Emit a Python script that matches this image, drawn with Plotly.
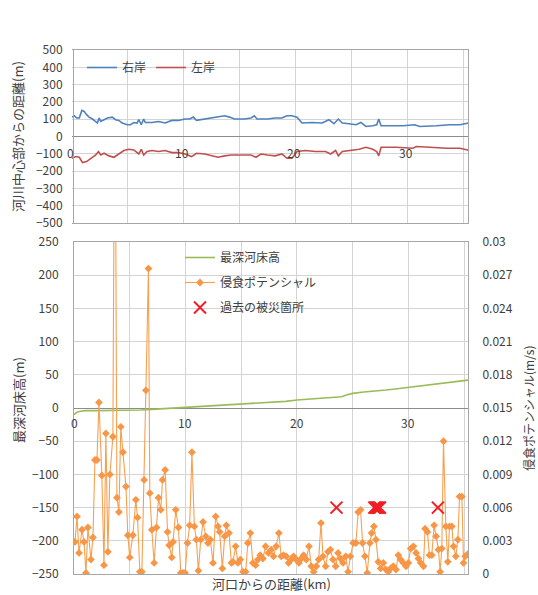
import plotly.graph_objects as go

W, H = 538, 595

# ---------------- top chart: distance from river centre ----------------
right_x = [0, 0.21, 0.41, 0.65, 0.88, 1.09, 1.3, 1.53, 1.83, 2.12, 2.27, 2.42, 2.57, 2.86, 3.16, 3.6, 3.89,
           4.19, 4.48, 4.93, 5.22, 5.52, 5.81, 5.96, 6.19, 6.4, 6.55, 7.14, 7.73, 8.32, 8.91, 9.5, 10.09,
           10.53, 10.83, 11.12, 11.56, 12.01, 12.45, 13.04, 13.63, 14.07, 14.51, 15.4, 15.99, 16.28, 16.52,
           16.87, 17.46,
           18.14, 18.74, 19.19, 19.64, 20.09, 20.54, 21.44, 22.34, 22.94, 23.39, 23.78, 24.14, 24.74, 25.35,
           25.8, 26.25, 26.85, 27.21, 27.39, 27.6, 28.35, 29.55, 30.6, 31.05, 32.55, 33.75, 34.65, 35.41]
right_y = [112, 120, 107, 107, 151, 145, 126, 112, 101, 87, 78, 107, 87, 97, 107, 112, 97,
           93, 78, 68, 68, 81, 78, 97, 68, 101, 81, 81, 87, 78, 93, 93, 101,
           101, 112, 93, 97, 101, 107, 112, 120, 112, 101, 101, 107, 120, 101,
           101, 101,
           107, 107, 120, 120, 112, 78, 81, 78, 97, 74, 101, 78, 74, 68,
           81, 58, 62, 68, 101, 62, 62, 62, 68, 58, 62, 68, 68, 78]

left_x = [0, 0.35, 0.65, 0.94, 1.3, 1.68, 2.12, 2.36, 2.57, 2.86, 3.3, 3.75, 4.19, 4.63, 5.07, 5.52, 5.96,
          6.19, 6.4, 6.7, 7.14, 7.73, 8.32, 8.91, 9.5, 10.09, 10.68, 11.12, 11.86, 12.45, 13.04, 13.63,
          14.22, 15.1, 15.99, 16.43, 16.87, 17.46,
          18.14, 18.74, 19.19, 19.64, 20.09, 20.84, 21.74, 22.64, 23.09, 23.54, 23.78, 24.14, 24.89, 25.65,
          26.25, 26.85, 27.21, 27.39, 27.6, 28.95, 30.45, 30.75, 31.95, 33.45, 34.65, 35.41]
left_y = [-126, -116, -120, -151, -145, -126, -107, -87, -107, -97, -112, -120, -101, -81, -74, -78, -101,
          -74, -107, -87, -81, -87, -81, -93, -93, -101, -116, -97, -101, -112, -120, -112,
          -107, -107, -107, -120, -101, -107,
          -112, -101, -126, -126, -87, -81, -87, -87, -101, -81, -112, -87, -81, -74,
          -62, -74, -87, -112, -62, -62, -68, -58, -62, -68, -68, -80]

# ---------------- bottom chart ----------------
bed_x = [0, 0.3, 0.6, 1, 2, 3, 4, 5, 6, 7, 8, 9, 10, 11, 12, 13, 14, 15, 16, 17, 17.5, 18, 19, 20, 21,
         22, 23, 24, 24.5, 25, 26, 27, 28, 29, 30, 31, 32, 33, 34, 35, 35.35]
bed_y = [-10, -6, -5, -4, -4, -4, -3, -3, -3, -2, -1, 0, 1, 2, 3, 4, 5, 6, 6, 7, 7.5, 9, 10, 12, 13,
         15, 16, 17, 20, 22, 24, 25, 27, 29, 31, 33, 35, 37, 39, 41, 42]

erosion_x = [0.09, 0.27, 0.45, 0.72, 0.9, 1.07, 1.25, 1.52, 1.7, 1.88,
             2.06, 2.24, 2.5, 2.69, 2.86, 3.04, 3.22, 3.49, 3.67, 3.85,
             4.03, 4.2, 4.39, 4.66, 4.83, 5.0, 5.28,
             5.55, 5.70, 5.91, 6.09, 6.29, 6.45, 6.68, 6.80, 6.98, 7.19,
             7.40, 7.58, 7.79, 7.94, 8.18, 8.39, 8.54, 8.77, 8.89, 9.13,
             9.37, 9.58, 9.79, 9.97, 10.18, 10.38, 10.58, 10.80, 10.98, 11.16,
             11.37, 11.58,
             11.82, 12.02, 12.23, 12.47, 12.71, 12.92, 13.07, 13.31, 13.52, 13.67,
             13.91, 14.12, 14.26, 14.5, 14.71, 14.92, 15.16, 15.4, 15.6, 15.82,
             16.05, 16.29, 16.5, 16.71, 16.95, 17.19, 17.45,
             17.69, 17.9, 18.14, 18.38, 18.59, 18.8, 19.04, 19.25, 19.49, 19.7,
             19.94, 20.18, 20.39, 20.6, 20.84, 21.08, 21.29, 21.5, 21.74, 21.95,
             22.16, 22.34, 22.58, 22.79, 23.0, 23.24, 23.48, 23.69, 23.9, 24.14,
             24.38, 24.59, 24.8, 25.05, 25.29, 25.5, 25.71, 25.89, 26.1, 26.31,
             26.55, 26.7, 26.91, 27.09, 27.3, 27.51, 27.75, 27.99, 28.2, 28.41,
             28.65, 28.89, 29.1, 29.31, 29.55, 29.79, 30.0, 30.21, 30.45, 30.69,
             30.9, 31.11, 31.35, 31.5, 31.71, 31.89, 32.1, 32.31, 32.49, 32.7,
             32.85, 33.0, 33.15, 33.36, 33.54, 33.69, 33.9, 34.05, 34.26, 34.44,
             34.59, 34.8, 34.95, 35.1, 35.32]
erosion_v = [0.0029, 0.0052, 0.0019, 0.0040, 0.0029, 0.0001, 0.0042, 0.0013, 0.0033, 0.0103,
             0.0103, 0.0155, 0.0089, 0.0008, 0.0127, 0.0020, 0.0090, 0.0124, 0.0500, 0.0069,
             0.0056, 0.0133, 0.0110, 0.0079, 0.0035, 0.0015, 0.0035,
             0.0067, 0.0051, 0.0002, 0.0002, 0.0085, 0.0166, 0.0276, 0.0073, 0.0040, 0.0010,
             0.0042, 0.0069, 0.0058, 0.0085, 0.0094, 0.0038, 0.0026, 0.0015, 0.0029, 0.0058,
             0.0042, 0.0001, 0.0001, 0.0001, 0.0028, 0.0044, 0.0110, 0.0043, 0.0031, 0.0003,
             0.0031, 0.0047,
             0.0034, 0.0028, 0.0031, 0.0010, 0.0052, 0.0043, 0.0038, 0.0005, 0.0034, 0.0044,
             0.0037, 0.0010, 0.0011, 0.0025, 0.0010, 0.0013, 0.0002, 0.0002, 0.0028, 0.0037,
             0.0010, 0.0008, 0.0013, 0.0017, 0.0014, 0.0025, 0.0019,
             0.0022, 0.0016, 0.0025, 0.0037, 0.0016, 0.0017, 0.0016, 0.0010, 0.0013, 0.0016,
             0.0013, 0.0010, 0.0014, 0.0017, 0.0013, 0.0025, 0.0007, 0.0002, 0.0007, 0.0013,
             0.0046, 0.0016, 0.0007, 0.0020, 0.0022, 0.0013, 0.0007, 0.0019, 0.0014, 0.0010,
             0.0016, 0.0002, 0.0016, 0.0028, 0.0028, 0.0056, 0.0058, 0.0028, 0.0016, 0.0001,
             0.0028, 0.0037, 0.0043, 0.0031, 0.0011, 0.0005, 0.0010, 0.0004, 0.0002, 0.0005,
             0.0007, 0.0004, 0.0017, 0.0013, 0.0010, 0.0007, 0.0010, 0.0023, 0.0025, 0.0019,
             0.0014, 0.0010, 0.0007, 0.0041, 0.0038, 0.0017, 0.0017, 0.0044, 0.0034, 0.0022,
             0.0002, 0.0023, 0.0120, 0.0043, 0.0011, 0.0043, 0.0043, 0.0025, 0.0016, 0.0031,
             0.0070, 0.0070, 0.0010, 0.0016, 0.0018]

disaster_x = [23.55, 26.95, 27.05, 27.15, 27.25, 27.35, 27.45, 32.65]
disaster_v = [0.006, 0.006, 0.006, 0.006, 0.006, 0.006, 0.006, 0.006]

x_tick_vals = [0, 10, 20, 30]
x_tick_text = ["0", "10", "20", "30"]
x_grid_vals = [0, 5, 10, 15, 20, 25, 30, 35]
right_tick_vals = [0, 0.003, 0.006, 0.009, 0.012, 0.015, 0.018, 0.021, 0.024, 0.027, 0.03]
right_tick_text = ["0", "0.003", "0.006", "0.009", "0.012", "0.015", "0.018", "0.021", "0.024", "0.027", "0.03"]

FONT = "Noto Sans CJK JP"
TXT = "#404040"
GRID = "#d4d4d4"
BORDER = "#a6a6a6"
ZERO = "#8c8c8c"

def px_x(p):
    return p / W

def px_y(p):
    return (H - p) / H

fig = go.Figure()

fig.add_trace(go.Scatter(x=right_x, y=right_y, mode="lines", name="右岸",
                         line=dict(color="#4F81BD", width=1.6), xaxis="x2", yaxis="y2", legend="legend"))
fig.add_trace(go.Scatter(x=left_x, y=left_y, mode="lines", name="左岸",
                         line=dict(color="#C0504D", width=1.6), xaxis="x2", yaxis="y2", legend="legend"))

fig.add_trace(go.Scatter(x=bed_x, y=bed_y, mode="lines", name="最深河床高",
                         line=dict(color="#9BBB59", width=1.6), xaxis="x", yaxis="y",
                         legend="legend2", legendgroup="a"))
fig.add_trace(go.Scatter(x=erosion_x, y=erosion_v, mode="lines+markers", name="侵食ポテンシャル",
                         line=dict(color="#F7A050", width=1.1),
                         marker=dict(symbol="diamond", size=6, color="#F79646"),
                         xaxis="x", yaxis="y3", legend="legend2", legendgroup="b"))
fig.add_trace(go.Scatter(x=disaster_x, y=disaster_v, mode="markers", name="過去の被災箇所",
                         marker=dict(symbol="x-thin", size=12, color="#F01E28",
                                     line=dict(width=2, color="#F01E28")),
                         xaxis="x", yaxis="y3", legend="legend2", legendgroup="c"))

common_x = dict(showticklabels=False, tickvals=x_grid_vals, showgrid=True, gridcolor=GRID, gridwidth=1,
                zeroline=False, showline=True, mirror=True, linecolor=BORDER, linewidth=1, ticks="")

fig.update_layout(
    width=W, height=H, autosize=False,
    margin=dict(l=0, r=0, t=0, b=0),
    paper_bgcolor="white", plot_bgcolor="white",
    font=dict(family=FONT, size=12, color=TXT),
    xaxis=dict(domain=[px_x(74), px_x(468)], range=[0, 35.35], anchor="y", **common_x),
    yaxis=dict(domain=[px_y(574), px_y(242)], range=[-250, 250], dtick=50, tick0=0,
               showgrid=True, gridcolor=GRID, zeroline=True, zerolinecolor=ZERO, zerolinewidth=1,
               showline=True, mirror=True, linecolor=BORDER, ticks="outside", ticklen=12,
               tickcolor="rgba(0,0,0,0)", automargin=False, tickfont=dict(size=12, color=TXT)),
    yaxis3=dict(overlaying="y", side="right", anchor="x", range=[0, 0.03], tickvals=right_tick_vals,
                ticktext=right_tick_text, showgrid=False, zeroline=False, ticks="outside", ticklen=11,
                tickcolor="rgba(0,0,0,0)", automargin=False, tickfont=dict(size=12, color=TXT)),
    xaxis2=dict(domain=[px_x(72), px_x(469)], range=[0, 35.45], anchor="y2", **common_x),
    yaxis2=dict(domain=[px_y(223), px_y(50)], range=[-500, 500], dtick=100, tick0=0,
                showgrid=True, gridcolor=GRID, zeroline=True, zerolinecolor=ZERO, zerolinewidth=1,
                showline=True, mirror=True, linecolor=BORDER, ticks="outside", ticklen=8,
                tickcolor="rgba(0,0,0,0)", automargin=False, tickfont=dict(size=12, color=TXT)),
    legend=dict(orientation="h", x=px_x(82), y=px_y(53), xanchor="left", yanchor="top",
                bgcolor="rgba(0,0,0,0)", font=dict(size=12, color=TXT), itemwidth=30),
    legend2=dict(orientation="v", x=px_x(180), y=px_y(243), xanchor="left", yanchor="top",
                 bgcolor="rgba(0,0,0,0)", font=dict(size=12, color=TXT),
                 traceorder="grouped", tracegroupgap=6),
    showlegend=True,
)

annotations = []
for v, t in zip(x_tick_vals, x_tick_text):
    annotations.append(dict(x=v, y=0, xref="x2", yref="y2", text=t, showarrow=False,
                            xanchor="center", yanchor="top", yshift=-5, xshift=-2,
                            font=dict(size=12, color=TXT)))
    annotations.append(dict(x=v, y=0, xref="x", yref="y", text=t, showarrow=False,
                            xanchor="center", yanchor="top", yshift=-4,
                            font=dict(size=12, color=TXT)))

annotations += [
    dict(x=px_x(18), y=px_y(137), xref="paper", yref="paper", text="河川中心部からの距離(m)",
         textangle=-90, showarrow=False, xanchor="center", yanchor="middle", font=dict(size=13, color=TXT)),
    dict(x=px_x(18), y=px_y(400), xref="paper", yref="paper", text="最深河床高(m)",
         textangle=-90, showarrow=False, xanchor="center", yanchor="middle", font=dict(size=13, color=TXT)),
    dict(x=px_x(528), y=px_y(408), xref="paper", yref="paper", text="侵食ポテンシャル(m/s)",
         textangle=-90, showarrow=False, xanchor="center", yanchor="middle", font=dict(size=12, color=TXT)),
    dict(x=px_x(271), y=px_y(583), xref="paper", yref="paper", text="河口からの距離(km)",
         showarrow=False, xanchor="center", yanchor="middle", font=dict(size=13, color=TXT)),
]
fig.update_layout(annotations=annotations)

fig.write_html("out.html", post_script="document.body.style.margin='0';",
               config={"displayModeBar": False})
